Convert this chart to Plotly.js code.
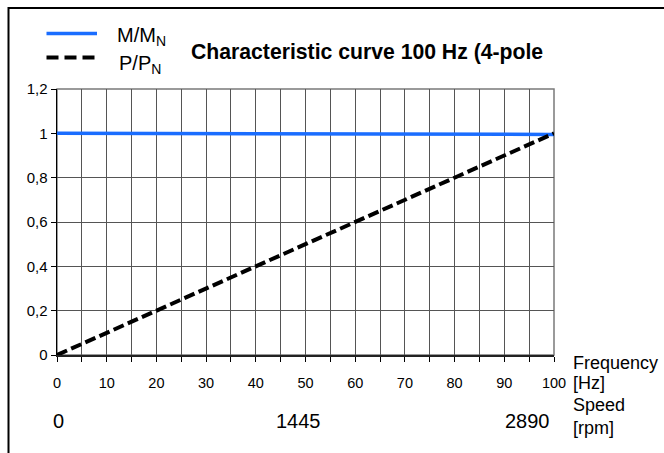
<!DOCTYPE html>
<html>
<head>
<meta charset="utf-8">
<script src="https://cdn.plot.ly/plotly-3.0.1.min.js"></script>
<style>
  html, body { margin: 0; padding: 0; background: #ffffff; }
  #chart { width: 664px; height: 453px; }
</style>
</head>
<body>
<div id="chart"></div>
<script>
// ---- data ----
var frequencyHz = [0, 100];
var torqueRatio = [1.0, 0.995];
var powerRatio = [0, 1.0];
var seriesNames = ['M/M<sub>N</sub>', 'P/P<sub>N</sub>'];
var chartTitle = 'Characteristic curve 100 Hz (4-pole';
var speedFreqPos = [0, 50, 100];
var speedLabels = ['0', '1445', '2890'];
var axisLabelLines = ['Frequency', '[Hz]', 'Speed', '[rpm]'];

var FONT = 'Liberation Sans, Arial, Helvetica, sans-serif';
var L = 57, R = 554, T = 89, B = 355;
function px(xp) { return (xp - L) / (R - L); }
function py(yp) { return 1 - (yp - T) / (B - T); }

var seriesColors = ['#1a6dff', '#000000'];
var seriesDash = ['solid', '11px,4.5px'];
var legendDash = ['solid', '12px,6px'];

var traces = [
  {
    x: frequencyHz, y: torqueRatio, name: seriesNames[0], type: 'scatter', mode: 'lines',
    line: { color: seriesColors[0], width: 3.5 }, showlegend: false
  },
  {
    x: frequencyHz, y: powerRatio, name: seriesNames[1], type: 'scatter', mode: 'lines',
    line: { color: seriesColors[1], width: 4, dash: seriesDash[1] }, showlegend: false
  }
];

var annotations = [];
var shapes = [
  { type: 'rect', xref: 'paper', yref: 'paper', x0: 0, x1: 1, y0: 0, y1: 1,
    line: { color: '#7a7a7a', width: 1.5 }, layer: 'below' },
  { type: 'rect', xref: 'paper', yref: 'paper',
    x0: px(8.5), x1: px(700), y0: py(480), y1: py(8),
    line: { color: '#000', width: 2 } }
];

// Manual legend (drawn outside the plot area without pushing margins)
var legLineY = [33.5, 57.5];
var legTextX = [115, 117];
var legTextY = [36.5, 64.5];
for (var k = 0; k < seriesNames.length; k++) {
  shapes.push({
    type: 'line', xref: 'paper', yref: 'paper',
    x0: px(46.5), x1: px(97), y0: py(legLineY[k]), y1: py(legLineY[k]),
    line: { color: seriesColors[k], width: k === 0 ? 3.5 : 4, dash: legendDash[k] }
  });
  annotations.push({
    xref: 'paper', yref: 'paper', x: px(legTextX[k]), y: py(legTextY[k]),
    text: seriesNames[k], showarrow: false, xanchor: 'left', yanchor: 'middle',
    font: { family: FONT, size: 20, color: '#000' }
  });
}

// Speed labels under the frequency axis
var speedShift = [1, -7, -2];
var speedAnchor = ['center', 'center', 'right'];
for (var i = 0; i < speedLabels.length; i++) {
  annotations.push({
    xref: 'x', yref: 'paper', x: speedFreqPos[i], y: py(420.5),
    text: speedLabels[i], showarrow: false, xanchor: speedAnchor[i], yanchor: 'middle',
    xshift: speedShift[i],
    font: { family: FONT, size: 20, color: '#000' }
  });
}
// Axis unit labels to the right of the x axis
var unitY = [363, 383, 405, 428];
for (var j = 0; j < axisLabelLines.length; j++) {
  annotations.push({
    xref: 'paper', yref: 'paper', x: px(571), y: py(unitY[j]),
    text: axisLabelLines[j], showarrow: false, xanchor: 'left', yanchor: 'middle',
    font: { family: FONT, size: 18, color: '#000' }
  });
}

var layout = {
  width: 664, height: 453,
  margin: { l: L, r: 664 - R, t: T, b: 453 - B, pad: 0, autoexpand: false },
  paper_bgcolor: '#ffffff', plot_bgcolor: '#ffffff',
  separators: ',.',
  font: { family: FONT, size: 14, color: '#000' },
  showlegend: false,
  title: {
    text: chartTitle,
    x: 191 / 664, xanchor: 'left', xref: 'container',
    y: 1 - 52 / 453, yanchor: 'middle', yref: 'container',
    font: { family: FONT, size: 21.2, color: '#000', weight: 700 }
  },
  xaxis: {
    range: [0, 100], dtick: 10, tick0: 0,
    ticks: 'outside', ticklen: 5, tickcolor: '#000', tickwidth: 1,
    ticklabelstandoff: 9,
    showline: true, linecolor: '#222', linewidth: 1.5,
    showgrid: true, gridcolor: '#555', gridwidth: 1,
    zeroline: false, fixedrange: true,
    tickfont: { family: FONT, size: 14.5, color: '#000' },
    minor: { dtick: 5, ticks: 'outside', ticklen: 5, tickcolor: '#000', showgrid: true, gridcolor: '#555', gridwidth: 1 }
  },
  yaxis: {
    range: [0, 1.2], dtick: 0.2, tick0: 0,
    ticks: 'outside', ticklen: 5, tickcolor: '#000', tickwidth: 1,
    showline: true, linecolor: '#000', linewidth: 1.5,
    showgrid: true, gridcolor: '#555', gridwidth: 1,
    zeroline: false, fixedrange: true,
    tickfont: { family: FONT, size: 15, color: '#000' }
  },
  shapes: shapes,
  annotations: annotations
};

Plotly.newPlot('chart', traces, layout, { displayModeBar: false, staticPlot: true });
</script>
</body>
</html>
